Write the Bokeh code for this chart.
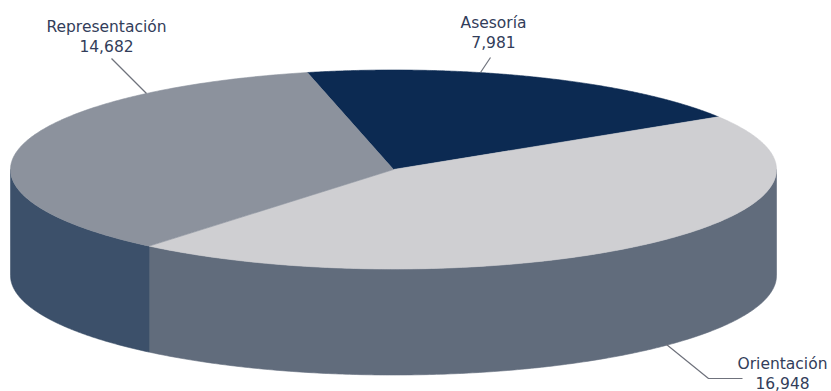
import numpy as np
from bokeh.plotting import figure
from bokeh.models import Range1d
from bokeh.core.properties import value
from bokeh.embed import file_html
from bokeh.resources import INLINE

# data, clockwise from the first slice
categories = ["Asesoría", "Orientación", "Representación"]
amounts = [7981, 16948, 14682]
amount_labels = ["7,981", "16,948", "14,682"]

# view of the 3D pie (page pixels)
CX, CY, RX, RY, DEPTH = 393.0, 169.0, 383.0, 99.5, 106.0
START_DEG = -13.0
FORESHORTEN = [0.98, 1.05, 0.955]   # perspective stretch of each slice
TOP_COLORS = ["#0c2a52", "#cfcfd2", "#8c929d"]
SIDE_RIGHT = "#616c7c"
SIDE_LEFT = "#3c506a"
TEXT_COLOR = "#323d5a"
LEADER_COLOR = "#6f727c"
FONT_PX = 15.5
LINE_PX = 19

p = figure(width=831, height=391, x_range=Range1d(0, 831), y_range=Range1d(391, 0),
           toolbar_location=None, output_backend="svg", min_border=0,
           outline_line_color=None, background_fill_color="white", border_fill_color="white")
p.axis.visible = False
p.grid.visible = False

weighted = np.array(amounts, dtype=float) * np.array(FORESHORTEN)
spans = weighted / weighted.sum() * 360.0
edges = START_DEG + np.concatenate([[0.0], np.cumsum(spans)])


def rim(a0, a1, dy=0.0):
    t = np.radians(np.linspace(a0, a1, 240))
    return CX + RX * np.sin(t), CY - RY * np.cos(t) + dy


def side(a0, a1, color):
    x, y = rim(a0, a1)
    xb, yb = rim(a1, a0, DEPTH)
    p.patch(np.concatenate([x, xb]), np.concatenate([y, yb]), fill_color=color,
            line_color=color, line_width=0.6)


# side wall: only the visible front half of the rim
split = edges[2]
side(90, split, SIDE_RIGHT)
side(split, 270, SIDE_LEFT)

# top face
for i, color in enumerate(TOP_COLORS):
    x, y = rim(edges[i], edges[i + 1])
    p.patch(np.concatenate([[CX], x]), np.concatenate([[CY], y]), fill_color=color,
            line_color=color, line_width=0.6)

# leader lines
leaders = [
    ([480, 490], [72, 57]),
    ([666, 708, 742], [344, 378, 378]),
    ([146, 111], [93, 58]),
]
for lx, ly in leaders:
    p.line(lx, ly, line_color=LEADER_COLOR, line_width=1.2)

# labels: centre x, baseline of the first line
anchors = [(493, 22.5), (782, 363), (106, 26.5)]
for (ax, ay), name, amount in zip(anchors, categories, amount_labels):
    for k, line in enumerate([name, amount]):
        p.text([ax], [ay + k * LINE_PX], text=[line], text_align="center",
               text_baseline="alphabetic", text_font=value("DejaVu Sans"),
               text_font_size=f"{FONT_PX}px", text_color=TEXT_COLOR)

open("out.html", "w").write(file_html(p, INLINE))
